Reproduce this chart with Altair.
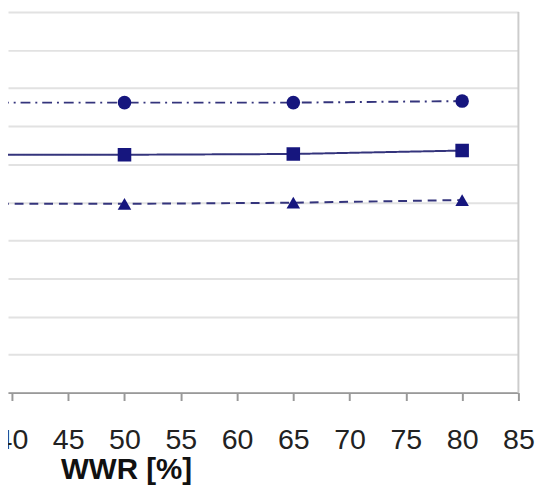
import altair as alt
import pandas as pd

wwr = [35, 50, 65, 80]
circle_vals = [7.62, 7.62, 7.62, 7.66]
square_vals = [6.25, 6.25, 6.27, 6.36]
triangle_vals = [4.96, 4.96, 4.99, 5.06]
series_names = ["circle", "square", "triangle"]
x_ticks = [40, 45, 50, 55, 60, 65, 70, 75, 80, 85]
y_grid = [0, 1, 2, 3, 4, 5, 6, 7, 8, 9, 10]
frame_x = [85]

rows = []
for name, vals in zip(series_names, [circle_vals, square_vals, triangle_vals]):
    for x, v in zip(wwr, vals):
        rows.append({"WWR": x, "value": v, "series": name})
df = pd.DataFrame(rows)

navy = "#16167e"
line_col = "#34347c"

xscale = alt.Scale(domain=[39.65, 85], nice=False, zero=False)
yscale = alt.Scale(domain=[0, 10], nice=False, zero=False)

xaxis = alt.Axis(
    values=x_ticks, title="WWR [%]", grid=False,
    labelFont="Liberation Sans", labelFontSize=29, labelColor="#222222",
    labelFlush=False, labelOverlap=False, labelBound=False,
    labelBaseline="alphabetic", labelPadding=49,
    tickSize=8, tickColor="#999999", tickWidth=2,
    domainColor="#999999", domainWidth=2,
    titleFont="Liberation Sans", titleFontSize=30, titleFontWeight="bold", titleColor="#111111",
    titleX=120, titleY=87, titleBaseline="alphabetic", titleAlign="center", titleAnchor="start",
)
yaxis = alt.Axis(values=y_grid, labels=False, ticks=False, domain=False, title=None,
                 grid=True, gridColor="#e2e2e2", gridWidth=2, labelOverlap=False)

X = alt.X("WWR:Q", scale=xscale, axis=xaxis)
Y = alt.Y("value:Q", scale=yscale, axis=yaxis)

base = alt.Chart(df)

lines = base.mark_line(clip=True, strokeWidth=2, color=line_col).encode(
    x=X, y=Y,
    strokeDash=alt.StrokeDash("series:N", legend=None,
                              scale=alt.Scale(domain=series_names,
                                              range=[[10, 5, 2, 5], [1, 0], [9, 6]])),
    detail="series:N",
)

points = base.mark_point(clip=True, filled=True, opacity=1, color=navy, size=190).encode(
    x=X, y=Y,
    shape=alt.Shape("series:N", legend=None,
                    scale=alt.Scale(domain=series_names,
                                    range=["circle", "square", "triangle-up"])),
)

border = alt.Chart(pd.DataFrame({"WWR": frame_x})).mark_rule(color="#cccccc", strokeWidth=2).encode(
    x=X
)

chart = alt.layer(lines, points, border).properties(
    width=519, height=387,
    autosize=alt.AutoSizeParams(type="none"),
    padding={"left": 0, "top": 0, "right": 25, "bottom": 100},
).configure_view(stroke=None)

chart.save("out.html", embed_options={"renderer": "svg", "actions": False})
